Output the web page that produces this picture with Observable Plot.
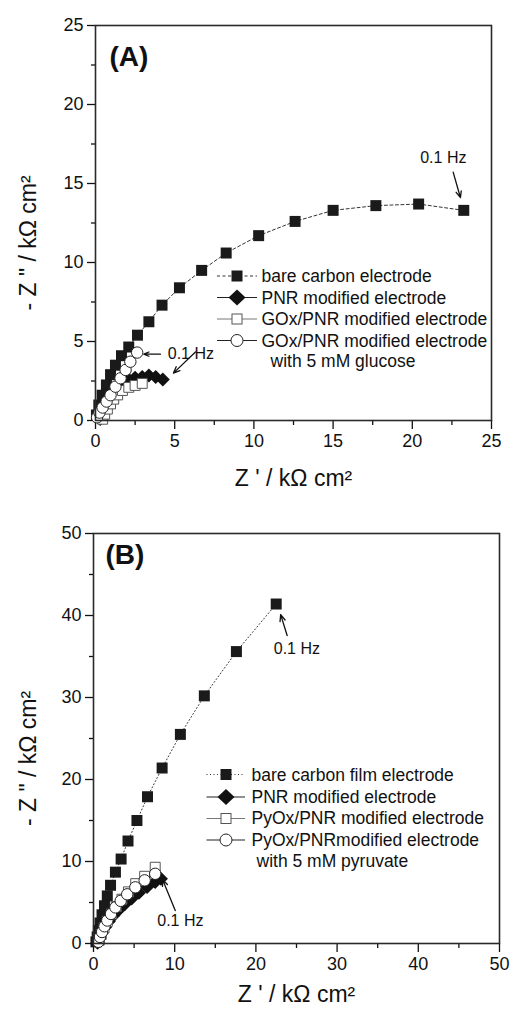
<!DOCTYPE html>
<html><head><meta charset="utf-8">
<script src="https://cdn.jsdelivr.net/npm/d3@7"></script>
<script src="https://cdn.jsdelivr.net/npm/@observablehq/plot@0.6"></script>
<style>
body{margin:0;background:#fff;}
#fig{position:relative;width:513px;height:1010px;overflow:hidden;font-family:"Liberation Sans",Arial,sans-serif;}
#fig > svg{position:absolute;left:0;}
</style></head><body><div id="fig"></div>
<script>
// ---------- Data (Z' , -Z'') in kΩ cm², high → low frequency ----------
const bareA = [[0.06,0.35],[0.21,0.98],[0.42,1.6],[0.69,2.25],[0.95,2.9],[1.26,3.5],[1.64,4.1],[2.1,4.65],[2.65,5.4],[3.37,6.25],[4.2,7.3],[5.3,8.4],[6.7,9.5],[8.25,10.6],[10.3,11.7],[12.6,12.6],[15.0,13.3],[17.7,13.6],[20.4,13.7],[23.25,13.3]];
const pnrA = [[0.3,0.1],[0.42,0.45],[0.55,0.8],[0.72,1.15],[0.92,1.5],[1.15,1.8],[1.42,2.1],[1.72,2.4],[2.1,2.6],[2.5,2.7],[2.95,2.75],[3.37,2.85],[3.8,2.75],[4.25,2.6]];
const goxA = [[0.45,0.08],[0.58,0.4],[0.75,0.72],[0.95,1.05],[1.15,1.35],[1.4,1.62],[1.7,1.9],[2.1,2.1],[2.5,2.22],[2.95,2.35]];
const goxGluA = [[0.1,0.2],[0.25,0.5],[0.45,0.82],[0.7,1.2],[0.95,1.6],[1.26,2.14],[1.58,2.67],[1.9,3.2],[2.2,3.72],[2.63,4.3]];

const bareB = [[0.3,0.2],[0.45,0.8],[0.6,1.6],[0.8,2.5],[1.05,3.5],[1.35,4.6],[1.7,5.8],[2.1,7.1],[2.7,8.7],[3.4,10.3],[4.25,12.5],[5.35,15.0],[6.65,17.9],[8.45,21.4],[10.7,25.5],[13.65,30.2],[17.6,35.6],[22.5,41.4]];
const pnrB = [[0.5,0.1],[0.75,0.7],[1.05,1.3],[1.45,2.0],[1.9,2.7],[2.45,3.4],[3.1,4.1],[3.85,4.8],[4.7,5.5],[5.6,6.2],[6.6,6.9],[7.6,7.5],[8.3,7.9]];
const pyoxB = [[0.7,0.4],[0.95,1.1],[1.3,1.9],[1.7,2.7],[2.2,3.6],[2.8,4.5],[3.5,5.4],[4.3,6.3],[5.2,7.3],[6.3,8.2],[7.6,9.3]];
const pyoxPyrB = [[0.6,0.2],[0.8,0.8],[1.05,1.4],[1.35,2.1],[1.7,2.8],[2.15,3.6],[2.7,4.4],[3.35,5.2],[4.15,6.0],[5.15,6.85],[6.3,7.7],[7.6,8.5]];

// tick values
const ticksMajorA = [0,5,10,15,20,25];
const ticksMinorA = [2.5,7.5,12.5,17.5,22.5];
const ticksMajorB = [0,10,20,30,40,50];
const ticksMinorB = [5,15,25,35,45];

// legend labels
const legendA = ["bare carbon electrode","PNR modified electrode","GOx/PNR modified electrode","GOx/PNR modified electrode","with 5 mM glucose"];
const legendB = ["bare carbon film electrode","PNR modified electrode","PyOx/PNR modified electrode","PyOx/PNRmodified electrode","with 5 mM pyruvate"];

// annotations (data coords)
const labelsA = [{x:20.5,y:16.6,t:"0.1 Hz"},{x:4.56,y:4.22,t:"0.1 Hz"}];
const arrowsA = [{x1:22.58,y1:15.72,x2:23.04,y2:14.1},{x1:4.1,y1:4.2,x2:3.05,y2:4.2},{x1:6.31,y1:4.34,x2:4.92,y2:3.0}];
const labelsB = [{x:22.2,y:35.9,t:"0.1 Hz"},{x:7.85,y:2.7,t:"0.1 Hz"}];
const arrowsB = [{x1:23.85,y1:37.56,x2:23.05,y2:40.1},{x1:10.07,y1:4.02,x2:8.5,y2:7.8}];

const xLabel = "Z ' / kΩ cm²";
const yLabel = "- Z \" / kΩ cm²";
const FONT = "'Liberation Sans', Arial, sans-serif";

const diamond = {draw(ctx, size){const h=Math.sqrt(size/2);ctx.moveTo(0,-h);ctx.lineTo(h,0);ctx.lineTo(0,h);ctx.lineTo(-h,0);ctx.closePath();}};

function series(data, o){
  const X = d=>d[0], Y = d=>d[1];
  return [
    Plot.line(data, {x:X, y:Y, stroke:o.lineColor, strokeWidth:o.lw||1, strokeDasharray:o.dash}),
    Plot.dot(data, {x:X, y:Y, symbol:o.symbol, r:o.r, fill:o.fill, stroke:o.stroke, strokeWidth:o.sw||1})
  ];
}

function panel(cfg){
  return Plot.plot({
    width:513, height:cfg.height,
    marginLeft:cfg.ml, marginRight:cfg.mr, marginTop:cfg.mt, marginBottom:cfg.mb,
    x:{domain:[0,cfg.max]}, y:{domain:[0,cfg.max]},
    style:{fontFamily:FONT, background:"transparent", overflow:"visible", color:"#111"},
    marks:[
      Plot.axisX({ticks:cfg.major, tickSize:9, tickPadding:5, fontSize:18, label:null, strokeWidth:1.3}),
      Plot.axisX({ticks:cfg.minor, tickSize:5, tickFormat:()=>"", label:null, strokeWidth:1.3}),
      Plot.axisY({ticks:cfg.major, tickSize:8, tickPadding:4, fontSize:18, label:null, strokeWidth:1.3}),
      Plot.axisY({ticks:cfg.minor, tickSize:4, tickFormat:()=>"", label:null, strokeWidth:1.3}),
      ...series(cfg.s[0], {lineColor:"#333", dash:cfg.bareDash, symbol:"square", r:6.2, fill:"#1a1a1a", stroke:"none"}),
      ...series(cfg.s[1], {lineColor:"#222", symbol:diamond, r:5.6, fill:"#111", stroke:"none", lw:1.2}),
      ...series(cfg.s[2], {lineColor:"#777", symbol:"square", r:5.6, fill:"#fff", stroke:"#555"}),
      ...series(cfg.s[3], {lineColor:"#222", symbol:"circle", r:5.7, fill:"#fff", stroke:"#222"}),
      Plot.frame({stroke:"#2a2a2a", strokeWidth:1.6}),
      Plot.arrow(cfg.arrows, {x1:"x1",y1:"y1",x2:"x2",y2:"y2", stroke:"#111", strokeWidth:1.3, headLength:8, headAngle:45}),
      Plot.text(cfg.labels, {x:"x", y:"y", text:"t", textAnchor:"start", fontSize:16, fill:"#111"}),
      Plot.text([cfg.tag], {frameAnchor:"top-left", dx:cfg.tagDx, dy:cfg.tagDy, lineAnchor:"top", textAnchor:"start", fontSize:28, fontWeight:"bold", fill:"#111"}),
      Plot.text([xLabel], {frameAnchor:"bottom", dy:cfg.xlDy, lineAnchor:"middle", textAnchor:"middle", fontSize:23, fill:"#111"}),
      Plot.text([yLabel], {frameAnchor:"left", dx:cfg.ylDx, dy:cfg.ylDy, rotate:-90, lineAnchor:"middle", textAnchor:"middle", fontSize:23, fill:"#111"})
    ]
  });
}

const fig = document.getElementById("fig");
const A = panel({height:500, ml:95, mr:22, mt:25, mb:80, max:25, major:ticksMajorA, minor:ticksMinorA,
  s:[bareA,pnrA,goxA,goxGluA], bareDash:"3,2.5", arrows:arrowsA, labels:labelsA, tag:"(A)", tagDx:14, tagDy:21,
  xlDy:58, ylDx:-67, ylDy:20});
A.style.top = "0px";
fig.appendChild(A);
const B = panel({height:505, ml:93, mr:14, mt:28, mb:67, max:50, major:ticksMajorB, minor:ticksMinorB,
  s:[bareB,pnrB,pyoxB,pyoxPyrB], bareDash:"1,2.5", arrows:arrowsB, labels:labelsB, tag:"(B)", tagDx:12, tagDy:11,
  xlDy:51, ylDx:-65, ylDy:20});
B.style.top = "505px";
fig.appendChild(B);

// ---------- Legends (overlay) ----------
function legend(labels, g){
  const ns="http://www.w3.org/2000/svg";
  const svg=document.createElementNS(ns,"svg");
  svg.setAttribute("width",513); svg.setAttribute("height",1010);
  svg.style.position="absolute"; svg.style.left="0"; svg.style.top="0"; svg.style.pointerEvents="none";
  let h="";
  const cx=g.cx, x1=g.x1, x2=g.x2;
  g.rows.forEach((cy,i)=>{
    if(i===0) h+=`<line x1="${x1}" x2="${x2}" y1="${cy}" y2="${cy}" stroke="#333" stroke-width="1" stroke-dasharray="${g.dash}"/><rect x="${cx-5.5}" y="${cy-5.5}" width="11" height="11" fill="#1a1a1a"/>`;
    if(i===1) h+=`<line x1="${x1}" x2="${x2}" y1="${cy}" y2="${cy}" stroke="#222" stroke-width="1.2"/><path d="M${cx},${cy-8}L${cx+8.5},${cy}L${cx},${cy+8}L${cx-8.5},${cy}Z" fill="#111"/>`;
    if(i===2) h+=`<line x1="${x1}" x2="${x2}" y1="${cy}" y2="${cy}" stroke="#777" stroke-width="1"/><rect x="${cx-5}" y="${cy-5}" width="10" height="10" fill="#fff" stroke="#555"/>`;
    if(i===3) h+=`<line x1="${x1}" x2="${x2}" y1="${cy}" y2="${cy}" stroke="#222" stroke-width="1"/><circle cx="${cx}" cy="${cy}" r="6" fill="#fff" stroke="#222"/>`;
  });
  labels.forEach((t,i)=>{
    const x = i===4 ? g.tx2 : g.tx;
    h+=`<text x="${x}" y="${g.base[i]}" font-family="${FONT.replace(/'/g,"")}" font-size="17.5" fill="#111">${t}</text>`;
  });
  svg.innerHTML=h;
  return svg;
}
fig.appendChild(legend(legendA,{cx:237,x1:217,x2:257,dash:"3,2.5",rows:[276,297.5,319,340.5],tx:261.5,tx2:270.5,base:[282,303.5,325,346.5,367]}));
fig.appendChild(legend(legendB,{cx:226,x1:206.5,x2:245,dash:"1,2.5",rows:[774.5,797,818.5,840],tx:251.5,tx2:256.5,base:[780.5,802.5,824,845.5,866.5]}));
</script></body></html>
